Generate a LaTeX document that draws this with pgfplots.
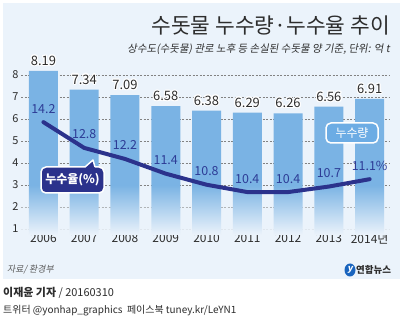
\documentclass[border=0pt]{standalone}
\usepackage{fontspec}
\setmainfont{Noto Sans CJK KR}
\newfontfamily\itfont{Noto Sans CJK KR}[FakeSlant=0.18]
\usepackage{pgfplots}
\pgfplotsset{compat=1.18}
\usetikzlibrary{fadings}
\usepackage{contour}
\contourlength{1.1pt}
\newcommand\fs[1]{\fontsize{#1}{#1}\selectfont}
\definecolor{panel}{RGB}{235,243,251}
\definecolor{barblue}{RGB}{122,179,228}
\definecolor{navy}{RGB}{43,50,140}
\definecolor{pctcol}{RGB}{45,60,150}
\definecolor{txt}{RGB}{45,45,45}
\definecolor{gridc}{RGB}{130,130,130}
\definecolor{boxblue}{RGB}{108,172,228}
\definecolor{logoblue}{RGB}{25,100,190}
\tikzfading[name=fadeup, top color=transparent!100, bottom color=transparent!0]

\begin{document}
\begin{tikzpicture}[x=1bp,y=1bp]
\useasboundingbox (0,0) rectangle (405,325);
\fill[white] (0,0) rectangle (405,325);
\fill[panel] (3,46) rectangle (400,322);
\begin{axis}[
  at={(21bp,90.5bp)}, anchor=south west,
  scale only axis, width=369bp, height=170.5bp,
  xmin=-0.55, xmax=8.5, ymin=0.75, ymax=8.5,
  ybar, bar width=29bp,
  axis line style={draw=none}, major tick length=0,
  xtick={0,...,8}, xticklabels={2006,2007,2008,2009,2010,2011,2012,2013,2014년},
  ytick={1,...,8},
  /pgf/number format/assume math mode=true,
  ymajorgrids, grid style={gridc, dash pattern=on 2bp off 1.5bp, line width=0.5bp},
  xticklabel style={font=\fs{12}, text=txt, yshift=4.5bp},
  yticklabel style={font=\fs{11}, text=txt, xshift=1bp},
  clip=false,
  nodes near coords={\contour{white}{\pgfplotspointmeta}},
  point meta=explicit symbolic,
  nodes near coords align={anchor=center},
  every node near coord/.append style={font=\fs{13}, text=txt, yshift=9.5bp},
]
\addplot[fill=barblue, draw=none] table[meta=lab] {
x y lab
0 8.19 8.19
1 7.34 7.34
2 7.09 7.09
3 6.58 6.58
4 6.38 6.38
5 6.29 6.29
6 6.26 6.26
7 6.56 6.56
8 6.91 6.91
};
\fill[panel, path fading=fadeup] (axis cs:-0.55,0.75) rectangle (axis cs:8.5,3.0);
\end{axis}
\begin{axis}[
  at={(21bp,90.5bp)}, anchor=south west,
  scale only axis, width=369bp, height=170.5bp,
  xmin=-0.55, xmax=8.5, ymin=8.094, ymax=17.36,
  hide axis, clip=false,
]
\addplot[navy, line width=4bp, line join=round, line cap=round,
  nodes near coords, point meta=explicit symbolic,
  nodes near coords align={anchor=center},
  every node near coord/.append style={font=\fs{12.5}, text=pctcol, yshift=13.5bp}]
  table[meta=lab] {
x y lab
0 14.2 14.2
1 12.8 12.8
2 12.2 12.2
3 11.4 11.4
4 10.8 10.8
5 10.4 10.4
6 10.4 10.4
7 10.7 10.7
8 11.1 {11.1\%}
};
\end{axis}
% titles
\node[anchor=east, text=txt, font=\fs{21.5}, inner sep=0] at (390,300) {수돗물 누수량·누수율 추이};
\node[anchor=east, text=txt, font=\itfont\fs{10.5}, inner sep=0] at (390,276) {상수도(수돗물) 관로 노후 등 손실된 수돗물 양 기준, 단위: 억 t};
% callout boxes
\draw[fill=navy, draw=white, line width=1.5bp, rounded corners=5bp] (41,132) rectangle (104,158);
\fill[navy] (85,157.2) -- (93,165) -- (95,157.2) -- cycle;
\draw[white, line width=1.5bp, line join=round] (85,158) -- (93,165) -- (95,158);
\node[text=white, font=\fs{12}\bfseries] at (72.5,145) {누수율(\%)};
\node[draw=white, line width=1.5bp, fill=boxblue, rounded corners=5bp, text=white,
  minimum width=52bp, minimum height=20bp, inner sep=0, font=\fs{12}] at (352,192) {누수량};
% footer
\node[anchor=west, inner sep=0, text=black!65, font=\itfont\fs{9}] at (7,55) {자료/ 환경부};
\fill[logoblue] (350,55) ellipse (5.5 and 6.5);
\node[text=white, inner sep=0, font=\itfont\bfseries\fs{9}] at (350,55) {y};
\node[anchor=west, inner sep=0, text=txt, font=\bfseries\fs{9.5}] at (356,55) {연합뉴스};
\node[anchor=west, inner sep=0, text=txt, font=\fs{11}] at (3,32) {\textbf{이재윤 기자} / 20160310};
\node[anchor=west, inner sep=0, text=txt, font=\fs{10}] at (3,14) {트위터 @yonhap\_graphics\ \ 페이스북 tuney.kr/LeYN1};
\end{tikzpicture}
\end{document}
